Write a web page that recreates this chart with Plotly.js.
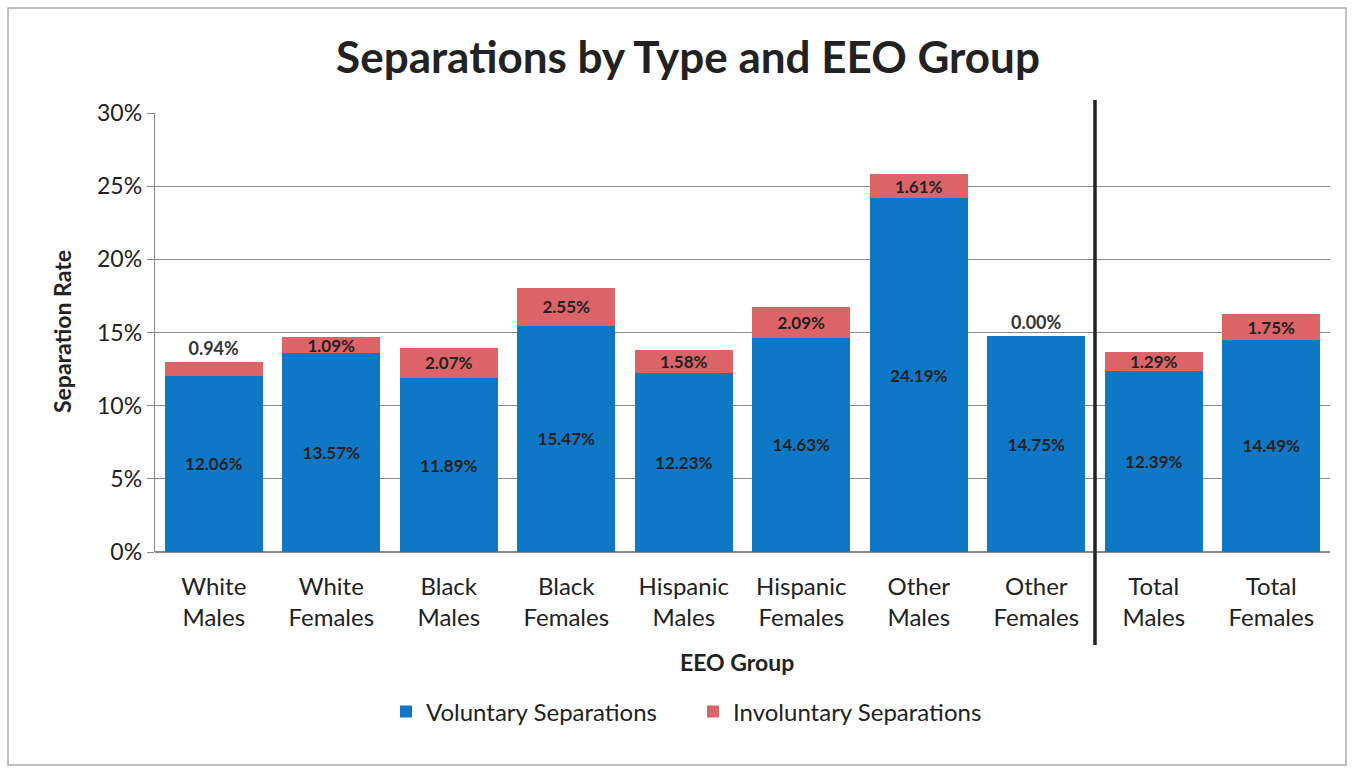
<!DOCTYPE html>
<html>
<head>
<meta charset="utf-8">
<script src="https://cdn.plot.ly/plotly-3.0.1.min.js"></script>
<style>html,body{margin:0;padding:0;background:#fff;}#chart{width:1356px;height:769px;}</style>
</head>
<body>
<div id="chart"></div>
<script>
const categories = ["White<br>Males","White<br>Females","Black<br>Males","Black<br>Females","Hispanic<br>Males","Hispanic<br>Females","Other<br>Males","Other<br>Females","Total<br>Males","Total<br>Females"];
const voluntary = [12.06, 13.57, 11.89, 15.47, 12.23, 14.63, 24.19, 14.75, 12.39, 14.49];
const involuntary = [0.94, 1.09, 2.07, 2.55, 1.58, 2.09, 1.61, 0.00, 1.29, 1.75];
const seriesNames = ["Voluntary Separations", "Involuntary Separations"];
const yTicks = [0, 5, 10, 15, 20, 25, 30];

const fmt = v => '<b>' + v.toFixed(2) + '%</b>';
const labelFont = {family: 'Lato, sans-serif', size: 17, color: '#222'};

const traces = [
  {
    type: 'bar', name: seriesNames[0], x: categories, y: voluntary,
    marker: {color: '#0e78c6'},
    text: voluntary.map(fmt), textposition: 'inside', insidetextanchor: 'middle',
    textfont: labelFont, constraintext: 'none', hoverinfo: 'none'
  },
  {
    type: 'bar', name: seriesNames[1], x: categories, y: involuntary,
    marker: {color: '#dc6468'},
    text: involuntary.map(fmt),
    textposition: involuntary.map(v => v < 1 ? 'outside' : 'inside'),
    insidetextanchor: 'middle',
    textfont: labelFont, outsidetextfont: {family: 'Lato, sans-serif', size: 18, color: '#333'},
    constraintext: 'none', cliponaxis: false, hoverinfo: 'none'
  }
];

const W = 1356, H = 769, L = 155, R = 26, T = 113, B = 217;
const pw = W - L - R, ph = H - T - B;

const layout = {
  width: W, height: H,
  margin: {l: L, r: R, t: T, b: B},
  paper_bgcolor: '#fff', plot_bgcolor: '#fff',
  barmode: 'stack', bargap: 0.17,
  font: {family: 'Lato, sans-serif', color: '#222'},
  title: {text: '<b>Separations by Type and EEO Group</b>', font: {family: 'Lato, sans-serif', size: 44, color: '#222'},
          x: 688 / W, xanchor: 'center', xref: 'container', y: 1 - 58 / H, yanchor: 'middle', yref: 'container'},
  xaxis: {
    type: 'category', tickfont: {size: 24, color: '#222'}, showgrid: false, zeroline: false,
    ticks: '', showline: false, automargin: false, ticklabelstandoff: 18
  },
  yaxis: {
    range: [0, 30], tickvals: yTicks, ticktext: yTicks.map(v => v + '%'),
    tickfont: {size: 23, color: '#222'}, showgrid: true, gridcolor: '#8a8a8a', gridwidth: 1.3,
    zeroline: true, zerolinecolor: '#8a8a8a', zerolinewidth: 1.3,
    showline: true, linecolor: '#8a8a8a', linewidth: 1.3,
    ticks: 'outside', ticklen: 7, tickcolor: '#8a8a8a', automargin: false
  },
  showlegend: true,
  legend: {orientation: 'h', x: (386 - L) / pw, xanchor: 'left', y: (552 - 712) / ph, yanchor: 'middle',
           font: {size: 24, color: '#222'}, traceorder: 'normal', entrywidth: 262, entrywidthmode: 'pixels'},
  annotations: [
    {text: '<b>EEO Group</b>', xref: 'paper', yref: 'paper', x: (737 - L) / pw, y: (552 - 662) / ph,
     showarrow: false, font: {size: 23, color: '#222'}, xanchor: 'center', yanchor: 'middle'},
    {text: '<b>Separation Rate</b>', xref: 'paper', yref: 'paper', x: (62 - L) / pw, y: (552 - 332) / ph,
     showarrow: false, textangle: -90, font: {size: 23, color: '#222'}, xanchor: 'center', yanchor: 'middle'}
  ],
  shapes: [
    {type: 'line', xref: 'x', yref: 'paper', x0: 7.5, x1: 7.5, y0: (552 - 645) / ph, y1: (552 - 100) / ph,
     line: {color: '#222', width: 3.5}},
    {type: 'rect', xref: 'paper', yref: 'paper', x0: (8 - L) / pw, x1: (1346 - L) / pw,
     y0: (552 - 765) / ph, y1: (552 - 8) / ph, line: {color: '#aaa', width: 1.5}}
  ]
};

Plotly.newPlot('chart', traces, layout, {displayModeBar: false, staticPlot: true});
</script>
</body>
</html>
